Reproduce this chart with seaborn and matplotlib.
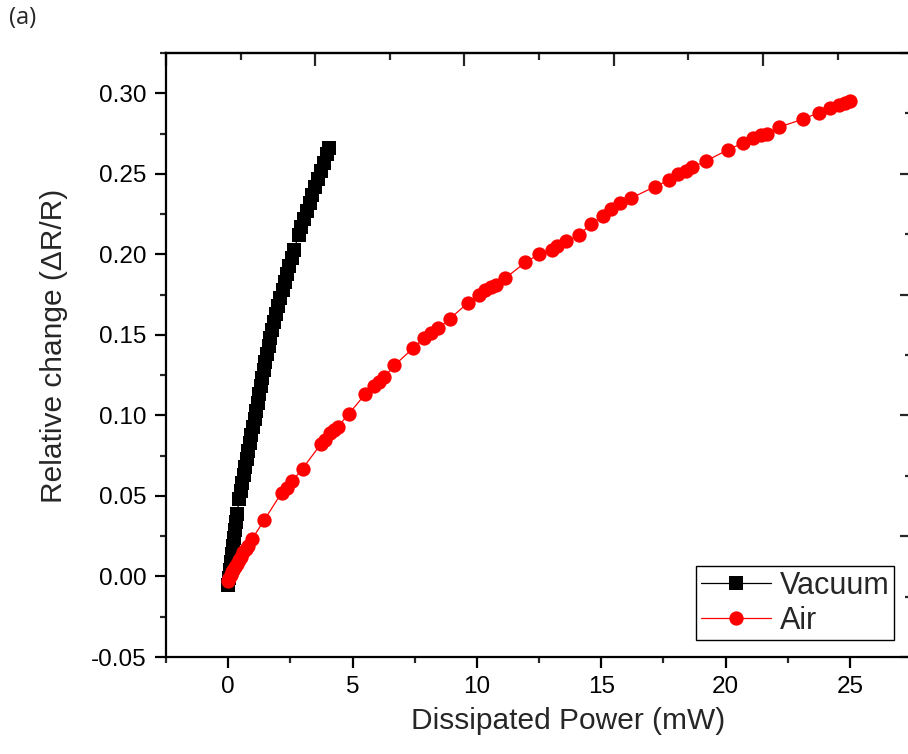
import numpy as np
import pandas as pd
import matplotlib
matplotlib.use("Agg")
import matplotlib.pyplot as plt
from matplotlib.ticker import FormatStrFormatter, MultipleLocator, FixedLocator
import seaborn as sns

# ---------------- data ----------------
vac_x = [0.00, 0.02, 0.06, 0.10, 0.14, 0.18, 0.22, 0.26, 0.30, 0.35,
         0.45, 0.51, 0.57, 0.63, 0.69, 0.75, 0.81, 0.87, 0.93, 0.99,
         1.06, 1.12, 1.18, 1.24, 1.30, 1.36, 1.43, 1.49, 1.56, 1.63,
         1.70, 1.77, 1.85, 1.93, 2.01, 2.10, 2.19, 2.28, 2.37, 2.46,
         2.55, 2.65, 2.83, 2.93, 3.04, 3.15, 3.27, 3.38, 3.49, 3.60,
         3.72, 3.84, 3.96, 4.07]
vac_y = [-0.005, -0.001, 0.004, 0.009, 0.014, 0.019, 0.024, 0.029, 0.034, 0.039,
         0.048, 0.053, 0.058, 0.063, 0.068, 0.073, 0.078, 0.083, 0.088, 0.093,
         0.098, 0.103, 0.108, 0.113, 0.118, 0.123, 0.128, 0.133, 0.138, 0.143,
         0.148, 0.153, 0.158, 0.163, 0.168, 0.173, 0.178, 0.183, 0.188, 0.193,
         0.198, 0.203, 0.212, 0.217, 0.222, 0.227, 0.232, 0.237, 0.242, 0.247,
         0.252, 0.257, 0.262, 0.266]

air_x = [-0.02, 0.05, 0.10, 0.15, 0.20, 0.28, 0.35, 0.42, 0.50, 0.60,
         0.70, 0.80, 0.95, 1.45, 2.15, 2.35, 2.57, 2.99, 3.72, 3.90,
         4.08, 4.25, 4.41, 4.85, 5.50, 5.85, 6.08, 6.28, 6.68, 7.45,
         7.88, 8.15, 8.45, 8.91, 9.65, 10.08, 10.32, 10.55, 10.75, 11.12,
         11.95, 12.48, 13.00, 13.20, 13.60, 14.10, 14.60, 15.08, 15.41, 15.75,
         16.21, 17.15, 17.71, 18.08, 18.41, 18.65, 19.21, 20.11, 20.68, 21.08,
         21.41, 21.68, 22.15, 23.12, 23.75, 24.21, 24.55, 24.81, 24.99]
air_y = [-0.003, -0.001, 0.001, 0.003, 0.004, 0.006, 0.008, 0.010, 0.012, 0.015,
         0.017, 0.019, 0.023, 0.035, 0.052, 0.055, 0.059, 0.067, 0.082, 0.085,
         0.089, 0.091, 0.093, 0.101, 0.113, 0.118, 0.121, 0.124, 0.131, 0.142,
         0.148, 0.151, 0.154, 0.160, 0.170, 0.175, 0.178, 0.180, 0.181, 0.185,
         0.195, 0.200, 0.203, 0.205, 0.208, 0.212, 0.219, 0.224, 0.228, 0.232,
         0.235, 0.242, 0.246, 0.250, 0.252, 0.254, 0.258, 0.265, 0.269, 0.272,
         0.274, 0.275, 0.279, 0.284, 0.288, 0.291, 0.293, 0.294, 0.295]

series_labels = ["Vacuum", "Air"]
x_ticks = [0, 5, 10, 15, 20, 25]
y_ticks = [-0.05, 0.00, 0.05, 0.10, 0.15, 0.20, 0.25, 0.30]
x_label = "Dissipated Power (mW)"
y_label = "Relative change (\u0394R/R)"
panel_label = "(a)"

# ---------------- style ----------------
sns.set_style("ticks")
plt.rcParams["font.family"] = ["Liberation Sans", "DejaVu Sans"]
plt.rcParams["axes.unicode_minus"] = False

fig = plt.figure(figsize=(9.08, 7.54), dpi=100)
ax = fig.add_axes([166 / 908, 1 - 657 / 754, 746.2 / 908, 604 / 754])

vac = pd.DataFrame({"x": vac_x, "y": vac_y})
air = pd.DataFrame({"x": air_x, "y": air_y})

sns.lineplot(data=vac, x="x", y="y", sort=False, estimator=None, ax=ax,
             color="black", linewidth=0.9, marker="s", markersize=9.7,
             markeredgewidth=0, label=series_labels[0])
sns.lineplot(data=air, x="x", y="y", sort=False, estimator=None, ax=ax,
             color="#ff0000", linewidth=0.9, marker="o", markersize=10.3,
             markeredgewidth=0, label=series_labels[1])

ax.set_xlim(-2.5, 27.5)
ax.set_ylim(-0.05, 0.325)
ax.xaxis.set_major_locator(FixedLocator(x_ticks))
ax.xaxis.set_minor_locator(MultipleLocator(2.5))
ax.yaxis.set_major_locator(FixedLocator(y_ticks))
ax.yaxis.set_minor_locator(MultipleLocator(0.025))
ax.yaxis.set_major_formatter(FormatStrFormatter("%.2f"))
ax.xaxis.set_major_formatter(FormatStrFormatter("%d"))

for sp in ax.spines.values():
    sp.set_linewidth(1.6)
    sp.set_color("black")
    sp.set_visible(True)

ax.tick_params(which="major", direction="out", length=8, width=1.6,
               labelsize=17.5, pad=6, colors="black")
ax.tick_params(which="minor", direction="out", length=4, width=1.6)
ax.tick_params(top=False, right=False, which="both")

# top and right axes (linked layers, no labels)
sec_x = ax.secondary_xaxis("top", functions=(lambda v: (v + 2.5) / 6.0,
                                             lambda u: u * 6.0 - 2.5))
sec_x.xaxis.set_major_locator(MultipleLocator(1))
sec_x.xaxis.set_minor_locator(MultipleLocator(0.5))
sec_x.tick_params(which="major", direction="in", length=9, width=1.6, labeltop=False)
sec_x.tick_params(which="minor", direction="in", length=5, width=1.6)
sec_x.spines["top"].set_linewidth(1.6)

sec_y = ax.secondary_yaxis("right", functions=(lambda v: (v + 0.05) / 0.075,
                                               lambda u: u * 0.075 - 0.05))
sec_y.yaxis.set_major_locator(MultipleLocator(1))
sec_y.yaxis.set_minor_locator(MultipleLocator(0.5))
sec_y.tick_params(which="major", direction="in", length=9, width=1.6, labelright=False)
sec_y.tick_params(which="minor", direction="in", length=5, width=1.6)
sec_y.spines["right"].set_linewidth(1.6)

ax.set_xlabel(x_label, fontsize=21.5)
ax.set_ylabel(y_label, fontsize=21.5)
ax.xaxis.set_label_coords(0.539, -0.083)
ax.yaxis.set_label_coords(-0.131, 0.515)

leg = ax.legend(loc="lower right", bbox_to_anchor=(0.976, 0.028),
                borderaxespad=0, fontsize=22, frameon=True, fancybox=False,
                edgecolor="black", framealpha=1, borderpad=0.15,
                labelspacing=0.15, handletextpad=0.3, handlelength=2.3)
leg.get_frame().set_linewidth(1.0)

fig.text(9 / 908, 1 - 6 / 754, panel_label, fontsize=17,
         family=["Open Sans", "DejaVu Sans"], va="top", ha="left")

fig.savefig("out.png", dpi=100)
